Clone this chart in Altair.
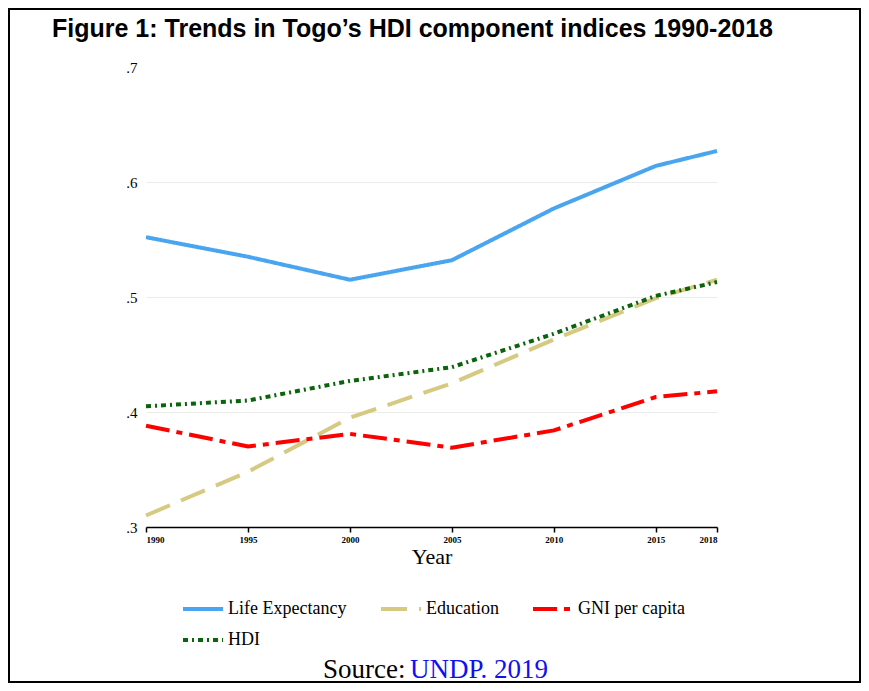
import altair as alt
import pandas as pd

years = [1990, 1995, 2000, 2005, 2010, 2015, 2018]
life_expectancy = [0.552, 0.535, 0.515, 0.532, 0.577, 0.614, 0.627]
education = [0.310, 0.348, 0.395, 0.425, 0.463, 0.499, 0.515]
gni_per_capita = [0.388, 0.370, 0.381, 0.369, 0.384, 0.413, 0.418]
hdi = [0.405, 0.410, 0.427, 0.439, 0.468, 0.501, 0.513]

series_names = ["Life Expectancy", "Education", "GNI per capita", "HDI"]
series_colors = ["#4AA5F0", "#D6C982", "#FF0000", "#0A640A"]
series_dashes = [[1, 0], [26, 12], [24, 7, 6, 7], [5, 4, 2, 4]]
x_tick_values = [1990, 1995, 2000, 2005, 2010, 2015, 2018]
y_tick_values = [0.3, 0.4, 0.5, 0.6, 0.7]

title_text = ["Figure 1: Trends in Togo\u2019s HDI component indices 1990-2018"]
source_label = ["Source:"]
source_ref = ["UNDP. 2019"]

rows = []
for name, vals in zip(series_names, [life_expectancy, education, gni_per_capita, hdi]):
    for y, v in zip(years, vals):
        rows.append({"Year": y, "value": v, "series": name})
df = pd.DataFrame(rows)

W, H = 571, 460
PL, PT, PR, PB = 138, 59, 144, 156

legend_props = dict(title=None, orient="none", legendX=35, legendY=520,
                    direction="horizontal", columns=3, columnPadding=26, rowPadding=-9,
                    values=series_names,
                    symbolType="stroke", symbolSize=1600, symbolStrokeWidth=4,
                    labelFont="Liberation Serif", labelFontSize=18,
                    labelColor="black", labelOffset=3, labelLimit=300)

lines = alt.Chart(df).mark_line(strokeWidth=4, clip=False).encode(
    x=alt.X("Year:Q",
            scale=alt.Scale(domain=[1990, 2018], nice=False, zero=False),
            axis=alt.Axis(values=x_tick_values, format="d", title="Year",
                          grid=False, domain=True, domainColor="black", domainWidth=1.5,
                          ticks=True, tickColor="black", tickWidth=1.5, tickSize=5,
                          labelFont="Liberation Serif", labelFontSize=9, labelFontWeight="bold",
                          labelColor="black", labelPadding=3,
                          titleFont="Liberation Serif", titleFontSize=22, titleFontWeight="normal",
                          titleColor="black", titlePadding=2)),
    y=alt.Y("value:Q",
            scale=alt.Scale(domain=[0.3, 0.7], nice=False, zero=False),
            axis=alt.Axis(values=y_tick_values, title=None, domain=False, ticks=False,
                          labelExpr="replace(format(datum.value, '.1f'), '0.', '.')",
                          labelFont="Liberation Serif", labelFontSize=15, labelColor="black",
                          labelPadding=9, labelAlign="right",
                          grid=True, gridColor="#EBEBEB", gridWidth=1,
                          gridOpacity=alt.condition("datum.value > 0.65 || datum.value < 0.35",
                                                    alt.value(0), alt.value(1)))),
    color=alt.Color("series:N",
                    scale=alt.Scale(domain=series_names, range=series_colors),
                    legend=alt.Legend(**legend_props)),
    strokeDash=alt.StrokeDash("series:N",
                              scale=alt.Scale(domain=series_names, range=series_dashes),
                              legend=alt.Legend(**legend_props)),
    order=alt.Order("Year:Q"),
)

title_mark = alt.Chart(pd.DataFrame({"t": title_text})).mark_text(
    font="Liberation Sans", fontSize=25, fontWeight="bold", color="black",
    align="left", baseline="alphabetic"
).encode(text="t:N", x=alt.value(-94), y=alt.value(-30))

src1 = alt.Chart(pd.DataFrame({"t": source_label})).mark_text(
    font="Liberation Serif", fontSize=27, color="black", align="left", baseline="alphabetic"
).encode(text="t:N", x=alt.value(177), y=alt.value(611))

src2 = alt.Chart(pd.DataFrame({"t": source_ref})).mark_text(
    font="Liberation Serif", fontSize=27, color="#1010F0", align="left", baseline="alphabetic"
).encode(text="t:N", x=alt.value(264), y=alt.value(611))

frame = alt.Chart(pd.DataFrame({"f": [1]})).mark_rect(
    fill="transparent", stroke="black", strokeWidth=2, clip=False
).encode(x=alt.value(-PL + 1), x2=alt.value(W + PR - 1),
         y=alt.value(-PT + 1), y2=alt.value(H + PB - 1))

chart = alt.layer(lines, title_mark, src1, src2, frame).properties(
    width=W, height=H,
    padding={"left": PL, "top": PT, "right": PR, "bottom": PB},
    autosize=alt.AutoSizeParams(type="none"),
).configure(background="white").configure_view(stroke=None)

chart.save("out.html", embed_options={"renderer": "svg", "actions": False})
